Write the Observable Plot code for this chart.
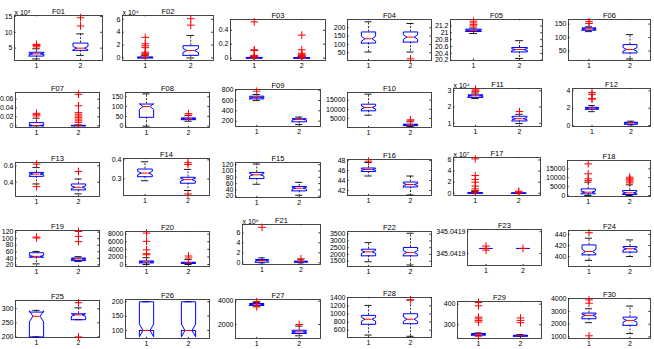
<!DOCTYPE html>
<html><head><meta charset="utf-8">
<script src="https://cdn.jsdelivr.net/npm/d3@7"></script>
<script src="https://cdn.jsdelivr.net/npm/@observablehq/plot@0.6"></script>
<style>
html,body{margin:0;padding:0;background:#fff;}
#chart{position:relative;width:654px;height:349px;overflow:hidden;background:#fff;}
#chart svg{position:absolute;overflow:visible;background:transparent;}
</style></head><body><div id="chart"></div>
<script>
// ---------- data ----------
const panelNames = ["F01","F02","F03","F04","F05","F06","F07","F08","F09","F10",
  "F11","F12","F13","F14","F15","F16","F17","F18","F19","F20",
  "F21","F22","F23","F24","F25","F26","F27","F28","F29","F30"];
const groupLabels = [1, 2];
const exponentLabels = ["x 10⁵","x 10⁴",null,null,null,null,null,null,null,null,
  "x 10⁴",null,null,null,null,null,"x 10⁷",null,null,null,
  "x 10⁶",null,null,null,null,null,null,null,null,null];
const yDomains = [[1.1,15.3],[-0.4,6.6],[-0.034,0.554],[3,250],[20.19,21.39],[15,167],
  [-0.004,0.075],[-7,172],[96,813],[90,19180],[0.8,3.14],[-0.11,4.27],
  [0.228,0.64],[0.214,0.407],[16,127],[41,48.2],[-0.4,6.45],[-560,19700],
  [15,125],[-520,8690],[-0.33,7.67],[1110,3700],[345.041889,345.041922],[382,447],
  [198,329],[72,208],[800,4143],[420,1405],[233,413],[870,4030]];
const yTicks = [[5,10,15],[0,2,4,6],[0,0.2,0.4],[50,100,150,200],[20.2,20.4,20.6,20.8,21,21.2],[50,100,150],
  [0,0.02,0.04,0.06],[0,50,100,150],[200,400,600,800],[5000,10000,15000],[1,2,3],[0,2,4],
  [0.4,0.6],[0.3,0.4],[20,40,60,80,100,120],[42,44,46,48],[0,2,4,6],[0,5000,10000,15000],
  [20,40,60,80,100,120],[0,2000,4000,6000,8000],[0,2,4,6],[1500,2000,2500,3000,3500],[345.0419,345.04192],[400,420,440],
  [200,250,300],[100,150,200],[2000,4000],[600,800,1000,1200,1400],[300,400],[1000,2000,3000,4000]];
// per panel: [group 1, group 2]
const whiskerLow = [[1.6,2.7],[0,0],[0,0],[54,54],[20.98,20.25],[122,21],
  [0,0],[0,25],[598,135],[6800,650],[2.52,0.98],[1.6,0.08],
  [0.38,0.26],[0.291,0.24],[58,23],[44.9,41.1],[0,0],[0,0],
  [23,30],[0,0],[0,0],[1460,1220],[345.0419046,345.0419046],[393,400],
  [200,261],[100,100],[3570,1030],[480,450],[246,243],[2120,1260]];
const quartile1 = [[2.5,4.3],[0,0.4],[0,0],[108,114],[21.04,20.44],[127,43],
  [0,0],[45,33],[631,187],[9180,1100],[2.59,1.14],[1.87,0.15],
  [0.472,0.308],[0.312,0.278],[76,37],[45.8,42.7],[0,0],[940,560],
  [43.5,33],[420,260],[0.13,0.13],[1900,1900],[345.0419046,345.0419046],[403,408],
  [200,261],[100,100],[3630,1230],[745,760],[249,244],[2430,1910]];
const medians = [[3.2,5.0],[0.05,1.15],[0.003,0.002],[134,144],[21.07,20.51],[132,56],
  [0.0005,0],[100,38],[657,233],[11000,1500],[2.69,1.28],[2.0,0.3],
  [0.5,0.34],[0.331,0.297],[88,45.5],[46.2,43.2],[0.05,0.02],[1870,1500],
  [46,38],[680,430],[0.47,0.27],[2195,2150],[345.0419046,345.0419046],[409,414],
  [273,278],[100,100],[3740,1370],[870,870],[254,246],[2700,2300]];
const quartile3 = [[3.7,6.6],[0.15,1.9],[0.01,0.008],[175,175],[21.107,20.57],[136,74],
  [0.007,0.0008],[113,42],[683,246],[12800,1900],[2.75,1.43],[2.1,0.38],
  [0.52,0.38],[0.352,0.309],[95.5,51],[46.5,43.7],[0.12,0.05],[3750,2800],
  [57,41],[940,600],[0.67,0.33],[2390,2520],[345.0419046,345.0419046],[421,418],
  [288,282],[200,200],[3800,1510],[965,1005],[257,249],[2880,2560]];
const whiskerHigh = [[4.8,9.5],[0.35,3.5],[0.02,0.018],[236,226],[21.14,20.77],[140,111],
  [0.017,0.002],[165,54],[716,278],[18270,3200],[2.86,1.55],[2.3,0.5],
  [0.58,0.44],[0.39,0.35],[122,64],[47.6,44.9],[0.3,0.1],[7500,6000],
  [61,45],[1800,1300],[1.0,0.6],[2880,3570],[345.0419046,345.0419046],[433,430],
  [294,303],[200,200],[3890,1860],[1210,1340],[260,252],[3220,3430]];
const outliers = [
  [[5.4,5.8,6.0,6.2],[12.0,14.6]],
  [[0.5,0.7,0.9,1.6,1.9,2.2,3.2],[5.1,6.1]],
  [[0.025,0.03,0.04,0.11,0.12,0.52],[0.025,0.03,0.04,0.05,0.07,0.12,0.33]],
  [[],[13]],
  [[21.2,21.24,21.29,21.34],[]],
  [[152,159],[]],
  [[0.022,0.025,0.028],[0.0075,0.011,0.015,0.019,0.022,0.026,0.03,0.045,0.071]],
  [[],[56,64]],
  [[781],[]],
  [[],[3700,4300]],
  [[2.94,3.0,3.1],[1.72]],
  [[3.05,3.1,3.6,3.8],[]],
  [[0.348,0.62],[0.532]],
  [[],[0.222,0.376,0.385]],
  [[],[]],
  [[47.87],[]],
  [[0.5,0.8,1.3,2.0,2.5,3.2,6.2],[0.2,0.35]],
  [[8400,9400,12200,17800],[7100,8100,8800,9400,10300]],
  [[102,105],[91,107,122]],
  [[2580,2840,3870,6110,8270],[1720,2240]],
  [[7.1],[0.8]],
  [[],[]],
  [[345.0419031,345.0419068],[345.0419046]],
  [[443],[]],
  [[],[200,321]],
  [[],[]],
  [[3510,3970],[2000]],
  [[],[1350]],
  [[245,313,321,329,337,392,408],[310,321,333]],
  [[1080,3660,3920],[]]
];
const runsPerGroup = 50; // sample size used for the notch (median ± 1.57·IQR/√n)

// ---------- layout (axes boxes in page pixels: left, top, right, bottom) ----------
const layout = [
  [14,15,102,60],[122,15,213,60],[230,19,325,60],[347,19,431,60],[450,19,542,60],[568,19,650,60],
  [15,92,99,127],[125,92,209,127],[235,89,320,126],[347,92,431,127],[453,88,541,126],[572,88,650,126],
  [15,162,99,196],[123,158,209,195],[235,162,320,197],[347,159,431,195],[453,157,540,195],[567,160,650,196],
  [15,230,99,266],[125,231,209,266],[242,224,320,264],[347,231,431,266],[467,229,541,265],[568,230,650,266],
  [15,300,99,337],[125,299,209,338],[235,299,320,338],[347,297,431,337],[457,301,541,338],[568,298,650,338]];
const BOX_W = 0.17, NOTCH_W = 0.085, CAP_W = 0.085;
const M = {left: 52, right: 6, top: 22, bottom: 14};
const FONT = "'Liberation Sans', Arial, Helvetica, sans-serif";
const FS = 7;
const chart = document.getElementById("chart");

panelNames.forEach((name, i) => {
  const [bx0, by0, bx1, by1] = layout[i];
  const [d0, d1] = yDomains[i];
  const groups = groupLabels.map((x, g) => {
    const q1 = quartile1[i][g], q3 = quartile3[i][g], med = medians[i][g];
    const notch = 1.57 * (q3 - q1) / Math.sqrt(runsPerGroup);
    return {x, lo: whiskerLow[i][g], q1, med, q3, hi: whiskerHigh[i][g], nlo: med - notch, nhi: med + notch};
  });
  const boxPts = groups.flatMap(d => [
    [-BOX_W, d.q1], [-BOX_W, d.nlo], [-NOTCH_W, d.med], [-BOX_W, d.nhi], [-BOX_W, d.q3],
    [BOX_W, d.q3], [BOX_W, d.nhi], [NOTCH_W, d.med], [BOX_W, d.nlo], [BOX_W, d.q1], [-BOX_W, d.q1]
  ].map(([dx, y]) => ({g: d.x, x: d.x + dx, y})));
  const outPts = groupLabels.flatMap((x, g) => outliers[i][g].map(y => ({x, y})));
  const tickLen = 0.03 * (d1 - d0);
  const fmt = name === "F23" ? (d => d.toFixed(4)) : (d => String(d));

  const marks = [
    Plot.frame({stroke: "#333", strokeWidth: 0.9}),
    Plot.axisY(yTicks[i], {tickSize: 0, tickPadding: 2, tickFormat: fmt, fontSize: FS, label: null}),
    Plot.axisX(groupLabels, {tickSize: 0, tickPadding: 3, tickFormat: d => String(d), fontSize: FS, label: null}),
    Plot.ruleY(yTicks[i], {x1: 0.5, x2: 0.54, stroke: "#333"}),
    Plot.ruleY(yTicks[i], {x1: 2.46, x2: 2.5, stroke: "#333"}),
    Plot.ruleX(groupLabels, {y1: d0, y2: d0 + tickLen, stroke: "#333"}),
    Plot.ruleX(groupLabels, {y1: d1, y2: d1 - tickLen, stroke: "#333"}),
    Plot.ruleX(groups, {x: "x", y1: "q3", y2: "hi", stroke: "#000", strokeDasharray: "2,1.5", strokeWidth: 0.8}),
    Plot.ruleX(groups, {x: "x", y1: "q1", y2: "lo", stroke: "#000", strokeDasharray: "2,1.5", strokeWidth: 0.8}),
    Plot.ruleY(groups, {y: "hi", x1: d => d.x - CAP_W, x2: d => d.x + CAP_W, stroke: "#000", strokeWidth: 0.9}),
    Plot.ruleY(groups, {y: "lo", x1: d => d.x - CAP_W, x2: d => d.x + CAP_W, stroke: "#000", strokeWidth: 0.9}),
    Plot.line(boxPts, {x: "x", y: "y", z: "g", stroke: "#0000ff", strokeWidth: 1}),
    Plot.ruleY(groups, {y: "med", x1: d => d.x - NOTCH_W, x2: d => d.x + NOTCH_W, stroke: "#ff0000", strokeWidth: 1}),
    Plot.dot(outPts, {x: "x", y: "y", symbol: "plus", stroke: "#ff0000", r: 2.6, strokeWidth: 1}),
    Plot.text([name], {frameAnchor: "top", dy: -7, fontSize: FS + 0.5, fill: "#000"})
  ];
  if (exponentLabels[i]) {
    marks.push(Plot.text([exponentLabels[i]], {frameAnchor: "top-left", dy: -5, textAnchor: "start", fontSize: FS, fill: "#000"}));
  }

  const svg = Plot.plot({
    width: bx1 - bx0 + M.left + M.right,
    height: by1 - by0 + M.top + M.bottom,
    marginLeft: M.left, marginRight: M.right, marginTop: M.top, marginBottom: M.bottom,
    x: {type: "linear", domain: [0.5, 2.5], axis: null},
    y: {type: "linear", domain: [d0, d1], axis: null},
    style: {fontFamily: FONT, fontSize: FS + "px", background: "transparent", overflow: "visible", color: "#000"},
    marks
  });
  svg.style.left = (bx0 - M.left) + "px";
  svg.style.top = (by0 - M.top) + "px";
  svg.style.maxWidth = "none";
  chart.appendChild(svg);
});
</script>
</body></html>
